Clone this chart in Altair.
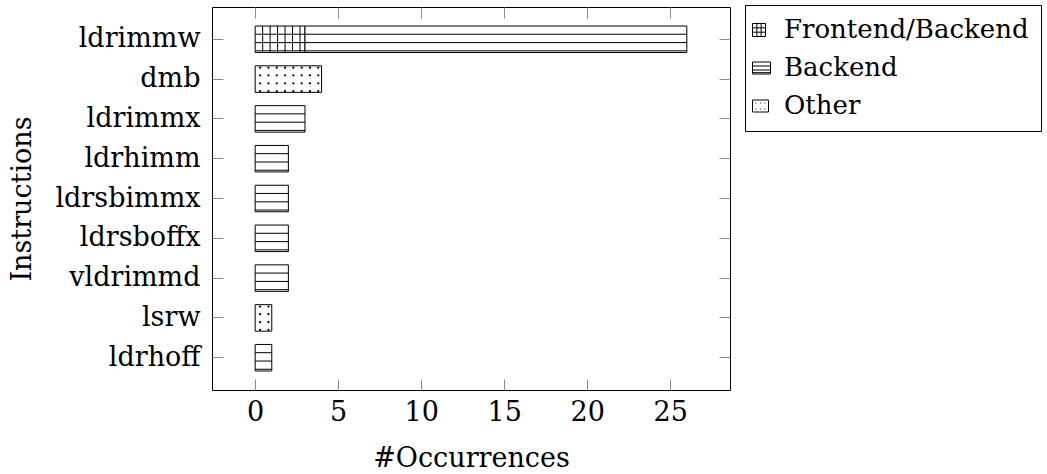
import altair as alt
import pandas as pd

# ---- data ----
instructions = ["ldrimmw", "dmb", "ldrimmx", "ldrhimm", "ldrsbimmx",
                "ldrsboffx", "vldrimmd", "lsrw", "ldrhoff"]
frontend_backend = [3, 0, 0, 0, 0, 0, 0, 0, 0]
backend = [23, 0, 3, 2, 2, 2, 2, 0, 1]
other = [0, 4, 0, 0, 0, 0, 0, 1, 0]
series_names = ["Frontend/Backend", "Backend", "Other"]
x_ticks = [0, 5, 10, 15, 20, 25]

rows = []
for i, inst in enumerate(instructions):
    start = 0
    for name, vals in zip(series_names, [frontend_backend, backend, other]):
        v = vals[i]
        if v > 0:
            rows.append({"inst": inst, "series": name, "start": start, "end": start + v})
            start += v
df = pd.DataFrame(rows)

FONT = "DejaVu Serif"
FS = 27
TICK = "#8c8c8c"

xscale = alt.Scale(domain=[-2.6, 28.6], nice=False, zero=False)
yscale = alt.Scale(domain=instructions, paddingInner=0.334, paddingOuter=0.478)

axis_left = alt.Axis(orient="left", offset=-11, tickSize=11, domain=False, grid=False,
                     tickColor=TICK, labelFont=FONT, labelFontSize=FS, labelColor="black",
                     labelPadding=12, title="Instructions", titleFont=FONT, titleFontSize=FS,
                     titleFontWeight="normal", titleColor="black", titlePadding=18)
axis_bottom = alt.Axis(orient="bottom", offset=-11, tickSize=11, values=x_ticks, domain=False,
                       grid=False, tickColor=TICK, labelFont=FONT, labelFontSize=FS,
                       labelColor="black", labelPadding=9, title="#Occurrences", titleFont=FONT,
                       titleFontSize=FS, titleFontWeight="normal", titleColor="black",
                       titlePadding=20)
axis_right = alt.Axis(orient="right", offset=-11, tickSize=11, labels=False, domain=False,
                      grid=False, tickColor=TICK, title=None)
axis_top = alt.Axis(orient="top", offset=-11, tickSize=11, values=x_ticks, labels=False,
                    domain=False, grid=False, tickColor=TICK, title=None)

base = alt.Chart(df)

bars = base.mark_bar(fill="white", stroke="black", strokeWidth=1).encode(
    x=alt.X("start:Q", scale=xscale, axis=axis_bottom),
    x2="end:Q",
    y=alt.Y("inst:N", scale=yscale, axis=axis_left),
)

layers = [bars]

# horizontal-line pattern (Backend and Frontend/Backend)
for k, bp in enumerate([0.31, 0.625, 0.935]):
    layers.append(
        base.transform_filter("datum.series != 'Other'").mark_rule(
            color="black", strokeWidth=1).encode(
            x=alt.X("start:Q", scale=xscale, axis=axis_top if k == 0 else None),
            x2="end:Q",
            y=alt.Y("inst:N", scale=yscale, bandPosition=bp,
                    axis=axis_right if k == 0 else None),
        )
    )

# vertical lines for the grid pattern (Frontend/Backend)
layers.append(
    base.transform_filter("datum.series == 'Frontend/Backend'")
    .transform_calculate(vx="sequence(datum.start + 0.45, datum.end - 0.05, 0.45)")
    .transform_flatten(["vx"])
    .mark_tick(color="black", size=26.5, thickness=1, opacity=1)
    .encode(x=alt.X("vx:Q", scale=xscale, axis=None),
            y=alt.Y("inst:N", scale=yscale, axis=None))
)

# dot pattern (Other)
for bp in [0.07, 0.36, 0.66, 0.95]:
    layers.append(
        base.transform_filter("datum.series == 'Other'")
        .transform_calculate(dx="sequence(datum.start + 0.3, datum.end, 0.5)")
        .transform_flatten(["dx"])
        .mark_circle(color="black", size=5, opacity=1)
        .encode(x=alt.X("dx:Q", scale=xscale, axis=None),
                y=alt.Y("inst:N", scale=yscale, bandPosition=bp, axis=None))
    )

# legend (pattern icons as custom symbol paths, left-aligned in their column)
paths = [
    "M-2.33,-0.87H-0.6V0.87H-2.33Z M-2.33,-0.29H-0.6 M-2.33,0.29H-0.6 "
    "M-1.75,-0.87V0.87 M-1.18,-0.87V0.87",
    "M-2.33,-0.8H0.07V0.8H-2.33Z M-2.33,-0.27H0.07 M-2.33,0.27H0.07 M-2.33,0.62H0.07",
    "M-2.33,-0.8H-0.2V0.8H-2.33Z M-1.95,-0.4h0.13 M-1.35,-0.4h0.13 M-0.75,-0.4h0.13 "
    "M-1.95,0.4h0.13 M-1.35,0.4h0.13 M-0.75,0.4h0.13",
]
legend_layer = alt.Chart(pd.DataFrame({"series": series_names})).mark_point(
    color="black", filled=False, clip=True, size=225, strokeWidth=1, opacity=1
).encode(
    x=alt.value(-60),
    y=alt.value(-60),
    shape=alt.Shape("series:N", scale=alt.Scale(domain=series_names, range=paths),
                    legend=alt.Legend(title=None, orient="none", legendX=533, legendY=-2,
                                      labelFont=FONT, labelFontSize=26, labelColor="black",
                                      labelLimit=0, symbolSize=225,
                                      strokeColor="black", fillColor="white", padding=12,
                                      rowPadding=12, labelOffset=1, cornerRadius=0,
                                      symbolStrokeWidth=1, symbolStrokeColor="black")),
)
layers.append(legend_layer)

chart = alt.layer(*layers).resolve_axis(x="independent", y="independent").properties(
    width=518, height=383,
    padding={"left": 212, "top": 7, "right": 317, "bottom": 84},
    autosize=alt.AutoSizeParams(type="none"),
    background="white",
).configure_view(stroke="black", strokeWidth=1)

chart.save("out.html", embed_options={"renderer": "svg", "actions": False})
